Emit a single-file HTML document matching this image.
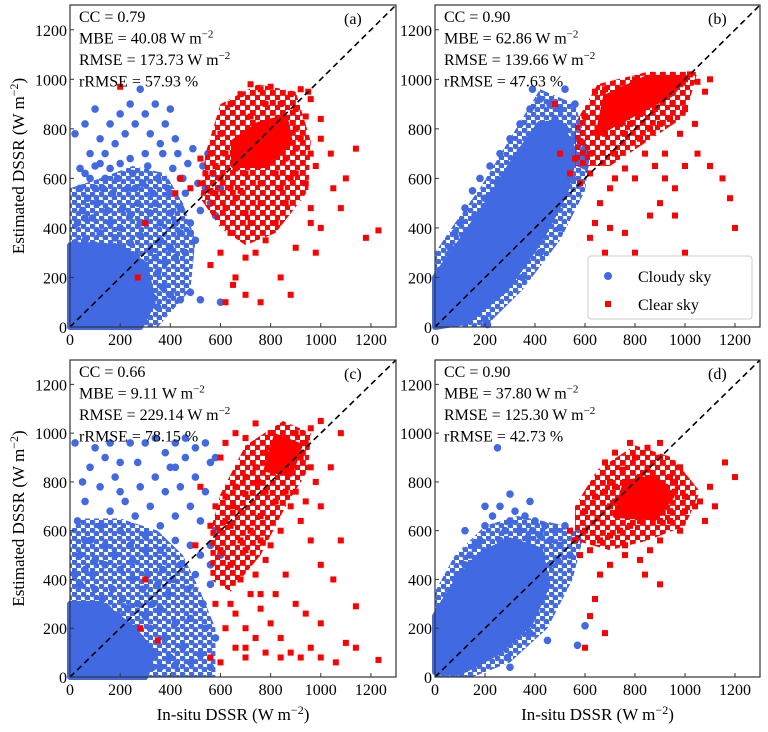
<!DOCTYPE html>
<html><head><meta charset="utf-8">
<style>
body{margin:0;background:#fff;}
svg{display:block;font-family:"Liberation Serif",serif;}
</style></head>
<body>
<svg id="fig" width="768" height="732" viewBox="0 0 768 732">
<defs>
<pattern id="bluePat" patternUnits="userSpaceOnUse" width="9" height="8">
<circle cx="2.2" cy="2" r="3.1" fill="#4169e1"/><circle cx="6.7" cy="6" r="3.1" fill="#4169e1"/>
</pattern>
<pattern id="redPat" patternUnits="userSpaceOnUse" width="10" height="10">
<rect x="0" y="0" width="5.8" height="5.8" fill="#ff0000"/><rect x="5" y="5" width="5.8" height="5.8" fill="#ff0000"/>
</pattern>
</defs>
</svg>
<script>
const ticks=[0,200,400,600,800,1000,1200];
const statsA=["CC = 0.79","MBE = 40.08 W m","RMSE = 173.73 W m","rRMSE = 57.93 %"];
const statsB=["CC = 0.90","MBE = 62.86 W m","RMSE = 139.66 W m","rRMSE = 47.63 %"];
const statsC=["CC = 0.66","MBE = 9.11 W m","RMSE = 229.14 W m","rRMSE = 78.15 %"];
const statsD=["CC = 0.90","MBE = 37.80 W m","RMSE = 125.30 W m","rRMSE = 42.73 %"];
// dense-region outlines: solid cores and moderately dense zones
const cloudyCoreA=[[0,0],[280,0],[330,100],[300,250],[200,320],[100,330],[0,330]];
const cloudyMidA=[[0,0],[350,0],[480,150],[500,350],[450,500],[380,620],[250,650],[120,600],[0,560]];
const clearMidA=[[520,520],[600,400],[700,330],[820,380],[950,550],[960,750],[900,950],[750,980],[600,900],[540,700]];
const clearCoreA=[[650,650],[780,650],[880,750],[860,850],[750,820],[650,750]];
const cloudyCoreB=[[0,0],[120,20],[280,150],[420,350],[520,540],[560,700],[500,820],[420,820],[320,680],[210,500],[100,340],[0,200]];
const cloudyMidB=[[0,0],[200,0],[350,150],[500,350],[600,550],[620,700],[560,900],[420,960],[300,760],[180,560],[80,420],[0,300]];
const clearMidB=[[560,650],[700,650],[850,750],[1000,850],[1050,1030],[850,1030],[650,980],[560,820]];
const clearCoreB=[[650,780],[800,860],[950,940],[1000,1010],[850,1010],[680,930]];
const cloudyCoreC=[[0,0],[300,0],[330,100],[250,200],[120,300],[0,300]];
const cloudyMidC=[[0,0],[580,0],[580,200],[520,350],[450,500],[350,600],[200,650],[50,650],[0,600]];
const clearMidC=[[560,400],[640,350],[760,500],[860,700],[950,850],[960,1000],[850,1050],[700,950],[600,750],[560,600]];
const clearCoreC=[[780,850],[880,830],[920,950],[820,990]];
const cloudyCoreD=[[0,20],[100,20],[250,100],[380,220],[450,380],[420,520],[300,560],[180,500],[80,380],[0,250]];
const cloudyMidD=[[0,0],[150,0],[300,60],[450,200],[550,400],[600,600],[480,630],[330,660],[200,620],[80,500],[0,350]];
const clearMidD=[[560,560],[700,520],[850,560],[1000,620],[1060,760],[950,900],[800,950],[650,850],[560,700]];
const clearCoreD=[[720,660],[880,650],[950,740],[880,820],[760,800]];
const cloudyA=[[20,30],[40,60],[60,40],[80,90],[100,50],[120,120],[140,80],[160,150],[180,100],[200,60],[30,120],[50,180],[70,150],[90,220],[110,190],[130,250],[150,210],[170,280],[190,230],[210,170],[230,130],[250,200],[270,150],[290,110],[310,180],[330,120],[350,220],[370,160],[400,130],[440,110],[480,140],[520,110],[600,100],[20,250],[40,300],[60,350],[80,280],[100,330],[120,380],[140,310],[160,420],[180,360],[200,300],[220,260],[240,340],[260,290],[280,370],[300,250],[320,310],[340,280],[360,350],[380,260],[400,320],[420,280],[440,380],[460,300],[480,420],[500,350],[30,420],[50,470],[70,520],[90,440],[110,500],[130,560],[150,470],[170,540],[190,600],[210,480],[230,560],[250,620],[270,500],[290,580],[310,650],[330,540],[350,600],[370,700],[390,560],[410,640],[430,700],[450,600],[470,660],[490,720],[510,580],[530,650],[550,700],[60,620],[80,700],[100,650],[120,760],[140,700],[160,820],[180,740],[200,860],[220,780],[240,900],[260,820],[280,960],[300,860],[320,780],[340,900],[360,740],[380,820],[400,880],[420,760],[440,600],[460,540],[20,780],[40,560],[60,820],[100,880],[160,640],[240,680],[300,700],[560,500],[580,450],[600,560],[520,470],[20,150],[10,80],[60,250],[15,200],[250,60],[300,60],[200,20],[120,15],[350,80],[260,100],[45,100],[85,20],[30,60],[70,70],[110,100],[150,130],[190,170],[230,240],[270,260],[130,40],[170,60],[20,340],[60,440],[100,560],[140,600],[200,400],[240,450],[280,420],[320,460],[360,420],[400,460],[440,480],[400,540],[40,640],[80,600],[120,660],[200,660],[260,560],[340,500],[420,420],[480,380],[540,560],[570,620]];
const clearA=[[600,600],[650,700],[700,750],[750,650],[800,700],[850,750],[900,800],[680,550],[720,850],[780,900],[820,620],[860,680],[900,720],[940,850],[620,480],[660,520],[700,620],[740,780],[760,580],[800,820],[840,900],[880,940],[920,960],[960,920],[980,650],[1000,760],[1040,700],[580,650],[560,550],[540,620],[600,780],[640,900],[680,940],[720,980],[760,960],[800,970],[900,620],[940,580],[960,480],[1000,400],[860,500],[820,420],[780,350],[740,300],[700,280],[660,200],[700,130],[760,100],[620,100],[650,170],[900,320],[960,420],[1100,600],[1140,720],[1180,360],[1230,390],[1080,480],[1050,560],[980,300],[840,200],[880,130],[720,420],[640,380],[600,300],[560,250],[680,660],[700,720],[720,700],[740,740],[660,640],[780,760],[820,780],[860,820],[620,700],[520,580],[480,560],[440,600],[520,680],[560,700],[900,880],[950,950],[880,600],[270,200],[420,540],[200,970],[300,420],[580,540],[640,560],[920,760],[960,700],[1000,840],[840,560],[760,500],[700,460]];
const cloudyB=[[10,20],[20,60],[30,40],[40,90],[50,70],[60,120],[70,100],[80,150],[90,130],[100,180],[110,160],[120,210],[130,190],[140,250],[150,220],[160,280],[170,240],[180,320],[190,270],[200,350],[210,300],[220,380],[230,330],[240,410],[250,360],[260,440],[270,390],[280,470],[290,420],[300,500],[310,450],[320,540],[330,480],[340,570],[350,510],[360,600],[370,540],[380,640],[390,570],[400,680],[410,600],[420,720],[430,640],[440,760],[450,680],[460,800],[470,720],[480,840],[490,760],[500,880],[520,800],[540,700],[560,760],[580,660],[600,720],[20,200],[40,250],[60,320],[80,380],[100,420],[120,480],[150,550],[180,600],[220,650],[260,700],[300,760],[340,820],[380,880],[420,920],[390,960],[300,640],[250,580],[200,520],[160,450],[130,380],[100,320],[70,260],[50,200],[30,150],[15,100],[150,100],[200,150],[250,220],[300,280],[350,330],[400,380],[450,440],[500,520],[550,600],[600,650],[200,30],[210,10],[350,200],[420,300],[500,400],[250,160],[120,80],[80,50],[40,20],[460,900],[520,960],[560,900],[600,850],[280,600],[320,680],[180,400],[140,330],[60,180],[90,240]];
const clearB=[[650,800],[700,850],[750,900],[800,950],[850,980],[900,1000],[950,1000],[1000,1000],[700,920],[750,960],[800,1000],[680,780],[720,700],[760,780],[820,860],[860,900],[900,940],[940,960],[980,980],[1020,1020],[1050,990],[620,700],[580,750],[600,850],[640,950],[680,960],[560,680],[540,620],[500,700],[480,900],[860,800],[900,820],[950,900],[1000,880],[1080,950],[1100,1000],[880,650],[920,600],[960,560],[840,700],[800,600],[760,640],[720,600],[700,560],[660,500],[640,420],[700,400],[760,380],[800,300],[620,360],[680,300],[900,500],[960,450],[1050,700],[1100,650],[1150,600],[1180,520],[1240,260],[1200,400],[1000,650],[1000,300],[860,450],[920,700],[980,780],[1040,820],[780,820],[740,820],[820,760],[880,880],[940,840],[620,620],[580,580]];
const cloudyC=[[20,30],[40,80],[60,40],[80,120],[100,60],[120,150],[140,90],[160,200],[180,60],[200,120],[220,40],[240,180],[260,90],[280,140],[300,60],[320,200],[340,100],[360,40],[380,160],[400,80],[420,50],[450,120],[480,60],[520,90],[560,40],[30,200],[50,260],[70,180],[90,300],[110,240],[130,320],[150,280],[170,360],[190,250],[210,320],[230,280],[250,400],[270,300],[290,360],[310,420],[330,300],[350,380],[370,440],[390,340],[410,400],[440,460],[470,360],[500,420],[530,300],[560,380],[20,420],[40,500],[60,440],[80,560],[100,480],[120,620],[140,540],[160,680],[180,500],[200,600],[220,720],[240,540],[260,660],[280,780],[300,580],[320,700],[340,820],[360,620],[380,760],[400,860],[420,660],[440,780],[460,900],[480,700],[500,820],[520,640],[540,760],[560,880],[580,600],[60,720],[80,860],[100,940],[120,780],[140,900],[160,960],[180,820],[200,880],[240,960],[270,880],[300,960],[340,980],[380,920],[420,960],[460,980],[500,940],[540,960],[580,900],[30,640],[50,800],[20,960],[260,200],[230,100],[120,40],[90,20],[330,40],[10,100],[70,90],[150,30],[190,160],[300,250],[360,280],[420,220],[480,240],[540,200],[580,160],[600,500],[560,540],[40,380],[90,420],[140,460],[200,440],[250,480],[300,520],[360,520],[420,560],[480,540],[520,500],[560,460],[100,360],[60,560],[200,760],[420,860]];
const clearC=[[600,600],[650,700],[700,750],[750,800],[800,850],[850,900],[900,950],[820,880],[860,980],[880,860],[900,1000],[920,900],[940,960],[960,1020],[780,920],[740,860],[700,820],[660,780],[620,740],[580,700],[560,620],[600,520],[640,460],[680,400],[720,340],[760,280],[800,220],[840,160],[880,100],[920,80],[960,120],[1000,80],[1060,60],[1100,140],[1140,120],[1230,70],[620,200],[660,120],[700,80],[740,160],[780,100],[580,300],[560,80],[600,60],[640,300],[680,560],[720,600],[760,660],[800,540],[840,600],[880,700],[920,640],[960,560],[1000,460],[1050,400],[1080,560],[1140,290],[1000,700],[980,800],[1040,860],[820,720],[780,480],[740,420],[700,200],[860,420],[900,300],[940,260],[1000,220],[820,340],[760,560],[680,680],[640,620],[600,900],[620,960],[660,1000],[700,980],[740,1040],[800,1000],[1000,1050],[1080,1000],[900,760],[960,860],[500,540],[520,780],[280,200],[300,400],[350,150],[620,640],[700,520],[780,760],[860,760],[940,720],[660,260],[760,340],[840,80],[700,120]];
const cloudyD=[[10,30],[20,80],[30,50],[40,120],[50,90],[60,160],[70,120],[80,200],[90,150],[100,240],[110,180],[120,280],[130,210],[140,320],[150,240],[160,360],[170,270],[180,400],[190,300],[200,440],[210,330],[220,480],[230,360],[240,520],[250,390],[260,560],[270,420],[280,600],[290,450],[300,640],[310,480],[320,680],[330,510],[340,600],[350,540],[360,660],[370,570],[380,720],[390,600],[400,640],[420,580],[440,620],[460,560],[480,600],[500,540],[520,620],[540,500],[560,560],[20,180],[30,250],[40,300],[60,340],[80,400],[100,420],[120,460],[140,500],[160,540],[180,560],[200,620],[230,660],[260,700],[300,750],[100,60],[130,90],[160,120],[190,140],[220,180],[250,210],[280,240],[310,270],[340,300],[370,340],[400,380],[430,420],[460,460],[490,480],[300,40],[290,80],[380,180],[450,150],[570,130],[600,210],[250,940],[200,700],[120,600],[60,80],[80,40],[130,40],[40,200],[70,280],[200,250],[240,300],[280,350],[320,400],[360,450],[400,500]];
const clearD=[[600,600],[650,650],[700,700],[750,750],[800,800],[850,850],[900,900],[700,800],[750,850],[800,900],[850,940],[900,960],[680,760],[720,720],[760,680],[800,720],[840,760],[880,740],[920,720],[960,760],[1000,740],[1040,700],[860,680],[900,640],[940,680],[820,640],[780,620],[740,600],[700,580],[660,560],[620,520],[580,500],[560,560],[540,600],[600,680],[640,740],[680,880],[720,920],[780,960],[820,820],[880,800],[940,820],[980,860],[1000,680],[1060,720],[1100,780],[1200,820],[1160,880],[1120,700],[1080,640],[980,600],[900,560],[860,520],[820,480],[760,540],[700,460],[660,420],[640,320],[620,250],[600,120],[680,180],[900,380],[840,420],[760,500],[940,640],[960,800],[860,800],[800,760],[760,800],[720,780],[880,700],[920,780]];

const svg=document.getElementById('fig');
const NS='http://www.w3.org/2000/svg';
function el(tag,attrs,parent){const e=document.createElementNS(NS,tag);for(const k in attrs)e.setAttribute(k,attrs[k]);(parent||svg).appendChild(e);return e;}
const BLUE='#4169e1', RED='#ff0000';

function panel(px,py,w,h,cloudy,clear,cCore,cMid,rMid,rCore,stats,tag,showYTitle,showXTitle,legend){
  const g=el('g',{});
  
  
  const X=v=>px+v/1300*w, Y=v=>py+h-v/1300*h;
  const pts=a=>a.map(p=>X(p[0])+','+Y(p[1])).join(' ');
  const bm=el('polygon',{points:pts(cMid),fill:'url(#bluePat)'},g);
  
  
  const cp=el('polygon',{points:pts(cCore),fill:BLUE,stroke:BLUE,'stroke-width':6,'stroke-linejoin':'round'},g);
  
  
  for(const p of cloudy){
    const c=el('circle',{cx:X(p[0]),cy:Y(p[1]),r:3.8,fill:BLUE},g);
    
    
  }
  const rm=el('polygon',{points:pts(rMid),fill:'url(#redPat)'},g);
  
  
  const rp=el('polygon',{points:pts(rCore),fill:RED,stroke:RED,'stroke-width':4,'stroke-linejoin':'round'},g);
  
  
  for(const p of clear){
    const r=el('rect',{x:X(p[0])-3,y:Y(p[1])-3,width:6,height:6,fill:RED},g);
    
    
  }
  const d=el('line',{x1:X(0),y1:Y(0),x2:X(1300),y2:Y(1300),stroke:'#000','stroke-width':1.6,'stroke-dasharray':'6,4'},g);
  
  
  const fr=el('rect',{x:px,y:py,width:w,height:h,fill:'none',stroke:'#333','stroke-width':1.2},g);
  
  
  for(const t of ticks){
    el('line',{x1:X(t),y1:py+h,x2:X(t),y2:py+h-4,stroke:'#333'},g);
    el('line',{x1:px,y1:Y(t),x2:px+4,y2:Y(t),stroke:'#333'},g);
    const xl=el('text',{x:X(t),y:py+h+18,'font-size':16,'text-anchor':'middle'},g);xl.textContent=t;
    
    
    const yl=el('text',{x:px-3,y:Y(t)+6,'font-size':16,'text-anchor':'end'},g);yl.textContent=t;
    
    
  }
  stats.forEach((s,i)=>{
    const t=el('text',{x:px+9,y:py+17+i*21.5,'font-size':16},g);
    t.textContent=s;
    if(i==1||i==2){const sp=el('tspan',{dy:-6,'font-size':11},t);sp.textContent='\u22122';}
    
    
  });
  const tl=el('text',{x:px+w-52,y:py+19,'font-size':16},g);tl.textContent='('+tag+')';
  
  
  if(showYTitle){
    const t=el('text',{x:0,y:0,'font-size':17,'text-anchor':'middle',transform:`translate(24,${py+h/2}) rotate(-90)`},g);
    t.textContent='Estimated DSSR (W m';
    const sp=el('tspan',{dy:-6,'font-size':12},t);sp.textContent='\u22122';
    const sp2=el('tspan',{dy:6},t);sp2.textContent=')';
    
    
  }
  if(showXTitle){
    const t=el('text',{x:px+w/2,y:py+h+43,'font-size':17,'text-anchor':'middle'},g);
    t.textContent='In-situ DSSR (W m';
    const sp=el('tspan',{dy:-6,'font-size':12},t);sp.textContent='\u22122';
    const sp2=el('tspan',{dy:6},t);sp2.textContent=')';
    
    
  }
  if(legend){
    const lg=el('g',{},g);
    
    
    el('rect',{x:px+w-172,y:py+h-71,width:164,height:63,fill:'#fff',stroke:'#ccc',rx:3},lg);
    el('circle',{cx:px+w-152,cy:py+h-51,r:4,fill:BLUE},lg);
    const t1=el('text',{x:px+w-122,y:py+h-45,'font-size':16},lg);t1.textContent='Cloudy sky';
    
    
    el('rect',{x:px+w-155,y:py+h-26,width:6,height:6,fill:RED},lg);
    const t2=el('text',{x:px+w-122,y:py+h-17,'font-size':16},lg);t2.textContent='Clear sky';
    
    
  }
}
panel(70,5,326,322,cloudyA,clearA,cloudyCoreA,cloudyMidA,clearMidA,clearCoreA,statsA,'a',true,false,false);
panel(435,5,325,322,cloudyB,clearB,cloudyCoreB,cloudyMidB,clearMidB,clearCoreB,statsB,'b',false,false,true);
panel(70,360,326,317,cloudyC,clearC,cloudyCoreC,cloudyMidC,clearMidC,clearCoreC,statsC,'c',true,true,false);
panel(435,360,325,317,cloudyD,clearD,cloudyCoreD,cloudyMidD,clearMidD,clearCoreD,statsD,'d',false,true,false);
</script>
</body></html>
